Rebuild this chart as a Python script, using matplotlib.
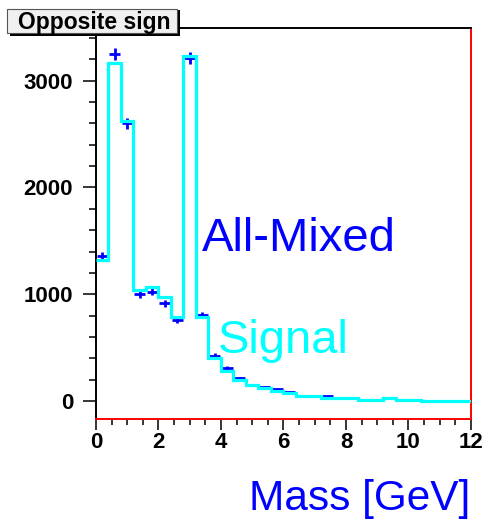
import numpy as np
import matplotlib
matplotlib.use("Agg")
import matplotlib.pyplot as plt
from matplotlib.patches import Rectangle
from matplotlib.ticker import MultipleLocator

plt.rcParams['font.family'] = ['Liberation Sans', 'DejaVu Sans']

# bin edges: 30 bins of 0.4 GeV from 0 to 12
BIN_EDGES = np.linspace(0, 12, 31)

# "Signal" histogram (cyan line)
SIGNAL = [1320, 3170, 2620, 1040, 1065, 975, 785, 3235, 785, 400,
          285, 195, 148, 118, 92, 78, 48, 47, 30, 28,
          27, 12, 12, 28, 12, 12, 4, 4, 4, 4]

# "All-Mixed" points (blue crosses)
ALL_MIXED = [1355, 3250, 2600, 1000, 1025, 915, 760, 3215, 805, 424,
             306, 212, 150, 128, 108, 80, 50, 45, 42, 28,
             26, 12, 12, 26, 12, 10, 4, 4, 4, 4]

centers = 0.5 * (BIN_EDGES[:-1] + BIN_EDGES[1:])
mixed = np.array(ALL_MIXED, dtype=float)

fig = plt.figure(figsize=(4.86, 5.21), dpi=100)
ax = fig.add_axes([0.1975, 0.1958, 0.7716, 0.7499])

ax.errorbar(centers, mixed, xerr=0.18, yerr=np.sqrt(mixed), fmt='none',
            ecolor='#0000ff', elinewidth=2.0, capsize=0, zorder=2)
ax.stairs(SIGNAL, BIN_EDGES, baseline=None, color='#00ffff', lw=2.3, zorder=3)

ax.set_xlim(0, 12)
ax.set_ylim(-169, 3491)

ax.xaxis.set_major_locator(MultipleLocator(2))
ax.xaxis.set_minor_locator(MultipleLocator(0.5))
ax.yaxis.set_major_locator(MultipleLocator(1000))
ax.yaxis.set_minor_locator(MultipleLocator(200))

ax.tick_params(axis='y', which='major', direction='out', length=9.4, width=1.1, pad=7,
               labelsize=16)
ax.tick_params(axis='y', which='minor', direction='out', length=5, width=1.1)
ax.tick_params(axis='x', which='major', direction='out', length=8, width=1.1, pad=1.5,
               labelsize=16)
ax.tick_params(axis='x', which='minor', direction='out', length=4.3, width=1.1)
for lab in ax.get_xticklabels() + ax.get_yticklabels():
    lab.set_fontweight('bold')

ax.spines['left'].set_color('black')
ax.spines['top'].set_color('black')
ax.spines['right'].set_color('red')
ax.spines['bottom'].set_color('red')
for s in ax.spines.values():
    s.set_linewidth(1.4)

fig.text(202 / 486, 1 - 251 / 521, "All-Mixed", color='#0000ff', fontsize=34,
         ha='left', va='baseline')
fig.text(218 / 486, 1 - 353 / 521, "Signal", color='#00ffff', fontsize=34,
         ha='left', va='baseline')
fig.text(470 / 486, 1 - 510 / 521, "Mass [GeV]", color='#0000ff', fontsize=30.5,
         ha='right', va='baseline')

# title box with shadow (ROOT style)
W, H = 486, 521
shadow = Rectangle((10 / W, 1 - 36 / H), 170 / W, 26 / H, transform=fig.transFigure,
                   facecolor='black', edgecolor='none', zorder=5)
box = Rectangle((7 / W, 1 - 33 / H), 170 / W, 24 / H, transform=fig.transFigure,
                facecolor='#f0f0f0', edgecolor='#555555', lw=0.8, zorder=6)
fig.patches.extend([shadow, box])
fig.text(18 / W, 1 - 28.5 / H, "Opposite sign", fontsize=16.5, fontweight='bold',
         ha='left', va='baseline', zorder=7)

fig.savefig("out.png", dpi=100)
